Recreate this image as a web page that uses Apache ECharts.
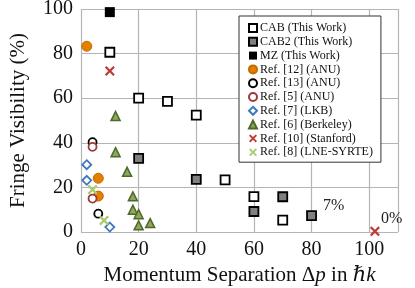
<!DOCTYPE html>
<html><head><meta charset="utf-8">
<script src="https://cdn.jsdelivr.net/npm/echarts@6/dist/echarts.min.js"></script>
<style>html,body{margin:0;padding:0;background:#fff}#c{width:415px;height:288px}</style>
</head><body><div id="c"></div>
<script>
const cab = [[10,80.6],[20,60],[30,58.6],[40,52.4],[50,23.4],[60,15.9],[70,5.3]];
const cab2 = [[20,33],[40,23.6],[60,9.2],[70,15.8],[80,7.3]];
const mz = [[10,98.6]];
const ref12 = [[2,83.3],[6,24.1],[6,16.1]];
const ref13 = [[4,40.3],[6,8.2]];
const ref5 = [[4,38.2],[4,15]];
const ref7 = [[2,30.2],[2,23.2],[10,2.2]];
const ref6 = [[12,52],[12,35.8],[16,27],[18,16],[18,10],[20,8],[20,3],[24,4]];
const ref10 = [[10,72.2],[102,0.3]];
const ref8 = [[4,19],[8,5.2]];
const names = ['CAB (This Work)','CAB2 (This Work)','MZ (This Work)','Ref. [12] (ANU)','Ref. [13] (ANU)','Ref. [5] (ANU)','Ref. [7] (LKB)','Ref. [6] (Berkeley)','Ref. [10] (Stanford)','Ref. [8] (LNE-SYRTE)'];
const xTicks = [0,20,40,60,80,100];
const yTicks = [0,20,40,60,80,100];

const SERIF = '"Liberation Serif", "DejaVu Serif", serif';
const XPATH = 'path://M0,1.6L1.6,0L5,3.4L8.4,0L10,1.6L6.6,5L10,8.4L8.4,10L5,6.6L1.6,10L0,8.4L3.4,5Z';

function S(name, data, symbol, size, fill, border, bw, extra){
  return Object.assign({
    name, type:'scatter', data, symbol, symbolSize:size, clip:false,
    itemStyle:{color:fill, borderColor:border, borderWidth:bw, opacity:1},
    emphasis:{disabled:true}
  }, extra||{});
}
const lab = (txt, ox, oy) => ({show:true, formatter:txt, position:'right', offset:[ox,oy], fontFamily:SERIF, fontSize:16, color:'#222'});

const cab2Data = cab2.map((d,i)=> i===4 ? {value:d, label:lab('7%',1,-10)} : d);
const ref10Data = ref10.map((d,i)=> i===1 ? {value:d, label:lab('0%',-4,-13)} : d);

const series = [
  S(names[0], cab, 'rect', 9, '#ffffff', '#000', 1.8),
  S(names[1], cab2Data, 'rect', 9, '#808080', '#000', 1.8),
  S(names[2], mz, 'rect', 10, '#000000', '#000', 0),
  S(names[3], ref12, 'circle', 10, '#E67E00', '#C46A00', 1),
  S(names[4], ref13, 'circle', 8, '#ffffff', '#000', 1.8),
  S(names[5], ref5, 'circle', 8, '#ffffff', '#9B3A3A', 1.8),
  S(names[6], ref7, 'diamond', 9, '#ffffff', '#3F78C0', 1.8),
  S(names[7], ref6, 'triangle', 9, '#8FA660', '#4E6A2A', 1.5),
  S(names[8], ref10Data, XPATH, 10, '#BF3B38', '#BF3B38', 0),
  S(names[9], ref8, XPATH, 10, '#A9CB6E', '#A9CB6E', 0)
];

const chart = echarts.init(document.getElementById('c'), null, {renderer:'canvas'});
chart.setOption({
  animation:false,
  backgroundColor:'#fff',
  grid:{left:81, right:17, top:9, bottom:56, containLabel:false, outerBoundsMode:'none'},
  xAxis:{
    type:'value', min:0, max:110, interval:20,
    axisLine:{show:false}, axisTick:{show:false},
    splitLine:{show:true, lineStyle:{color:'#b4b4b4', width:1.2}},
    axisLabel:{fontFamily:SERIF, fontSize:20, color:'#111', margin:8,
      formatter:v => xTicks.includes(v) ? String(v) : ''},
    name:'Momentum Separation Δ{i|p} in {i|ℏk}', nameLocation:'middle', nameGap:32,
    nameTextStyle:{fontFamily:SERIF, fontSize:21, color:'#111',
      rich:{i:{fontFamily:SERIF, fontSize:21, fontStyle:'italic', color:'#111'}}}
  },
  yAxis:{
    type:'value', min:0, max:100, interval:20,
    axisLine:{show:false}, axisTick:{show:false},
    splitLine:{show:true, lineStyle:{color:'#b4b4b4', width:1.2}},
    axisLabel:{fontFamily:SERIF, fontSize:20, color:'#111', margin:8,
      formatter:v => yTicks.includes(v) ? String(v) : ''},
    name:'Fringe Visibility (%)', nameLocation:'middle', nameGap:52,
    nameTextStyle:{fontFamily:SERIF, fontSize:21, color:'#111'}
  },
  legend:{
    show:true, orient:'vertical', left:239, top:16, width:130,
    backgroundColor:'#fff', borderColor:'#333', borderWidth:1, borderRadius:0,
    padding:[6,8,4,9], itemWidth:8, itemHeight:8, itemGap:1.8,
    textStyle:{fontFamily:SERIF, fontSize:12, color:'#111', padding:[0,0,0,-2], lineHeight:11},
    data:names, selectedMode:false
  },
  series
});
</script></body></html>
